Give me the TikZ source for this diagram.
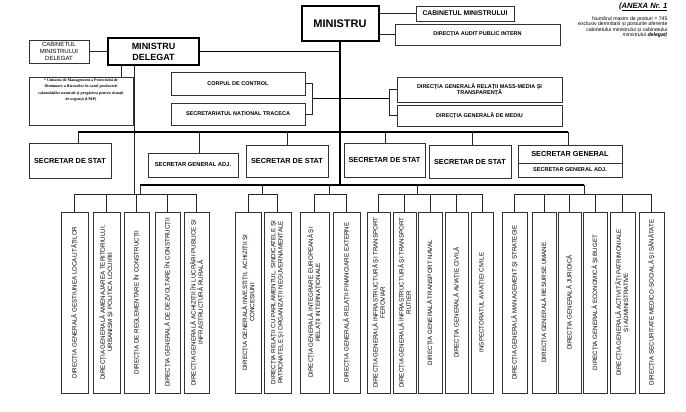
\documentclass[tikz,border=0pt]{standalone}
\usepackage{fontspec}
\setmainfont{Liberation Sans}
\newfontfamily\umpfont{Liberation Serif}

\begin{document}
\begin{tikzpicture}[x=1pt,y=-1pt,
    box/.style={draw=black!80,line width=0.8pt,inner sep=1pt,align=center,
        font=\bfseries\fontsize{5.5}{6.6}\selectfont},
    chief/.style={draw,line width=2pt,inner sep=1pt,align=center,
        font=\bfseries\fontsize{11}{12}\selectfont},
    secbox/.style={draw=black!80,line width=1pt,inner sep=1pt,align=center,
        font=\bfseries\fontsize{7.3}{8.5}\selectfont},
    dirbox/.style={draw=black!80,line width=1pt,rotate=90,minimum width=181,
        inner sep=1pt,align=center,font=\fontsize{6.2}{7.2}\selectfont},
    link/.style={draw=black!85,line width=0.8pt},
    bus/.style={line width=1.6pt}]

    \useasboundingbox (0,0) rectangle (686,412);

    % Annex note
    \node[font=\bfseries\itshape\fontsize{7.6}{8}\selectfont,anchor=east] (anexa) at (671,7) {(\underline{ANEXA Nr. 1}};
    \node[font=\fontsize{5.2}{5.4}\selectfont,align=right,anchor=north east] (posturi) at (671,13) {Numărul maxim de posturi = 745\\exclusiv demnitarii și posturile aferente\\cabinetului ministrului și cabinetului\\\textit{ministrului \textbf{delegat})}};

    % Ministru
    \node[chief,minimum width=77,minimum height=35] (min) at (340,23.5) {MINISTRU};
    \node[box,font=\bfseries\fontsize{6.8}{8}\selectfont,minimum width=98,minimum height=15] (cabmin) at (465,13.5) {CABINETUL MINISTRULUI};
    \node[box,minimum width=165,minimum height=21] (audit) at (477.5,34.5) {DIRECȚIA AUDIT PUBLIC INTERN};

    % Ministru delegat
    \node[chief,font=\bfseries\fontsize{9}{11}\selectfont,minimum width=91,minimum height=27] (mindel) at (153.5,51.5) {MINISTRU\\DELEGAT};
    \node[box,font=\fontsize{6}{7.3}\selectfont,minimum width=60,minimum height=23] (cabdel) at (59,51.5) {CABINETUL\\MINISTRULUI\\DELEGAT};
    \node[box,minimum width=104,minimum height=48] (ump) at (81,101) {};
    \node[font=\umpfont\bfseries\fontsize{4}{6.3}\selectfont,align=center,anchor=north,inner sep=1pt] (umptext) at (81,77.5) {* Unitatea de Management a Proiectului de\\Diminuare a Riscurilor în cazul producerii\\calamităților naturale și pregătirea pentru situații\\de urgență (UMP)};

    % Units under the minister
    \node[box,minimum width=134,minimum height=23] (corp) at (238,83.5) {CORPUL DE CONTROL};
    \node[box,minimum width=134,minimum height=22] (traceca) at (238,114) {SECRETARIATUL NAȚIONAL TRACECA};
    \node[box,minimum width=165,minimum height=25] (media) at (479.5,89.5) {DIRECȚIA GENERALĂ RELAȚII MASS-MEDIA ȘI\\TRANSPARENȚĂ};
    \node[box,minimum width=165,minimum height=21] (mediu) at (479.5,115.5) {DIRECȚIA GENERALĂ DE MEDIU};

    % Secretaries
    \node[secbox,minimum width=82,minimum height=35] (ss1) at (70,160.5) {SECRETAR DE STAT};
    \node[secbox,font=\bfseries\fontsize{5.8}{7}\selectfont,minimum width=90,minimum height=24] (sga) at (193,165) {SECRETAR GENERAL ADJ.};
    \node[secbox,minimum width=82,minimum height=32] (ss2) at (287,161) {SECRETAR DE STAT};
    \node[secbox,minimum width=81,minimum height=34] (ss3) at (384.5,160) {SECRETAR DE STAT};
    \node[secbox,minimum width=82,minimum height=33] (ss4) at (470,161.5) {SECRETAR DE STAT};
    \node[secbox,minimum width=104,minimum height=18] (sg) at (570,154) {SECRETAR GENERAL};
    \node[secbox,font=\bfseries\fontsize{5.6}{7}\selectfont,minimum width=104,minimum height=14] (sgadj) at (570,170) {SECRETAR GENERAL ADJ.};

    % Directions
    \node[dirbox,minimum height=27] (d1) at (74.5,302.5) {DIRECȚIA GENERALĂ GESTIUNEA LOCALITĂȚILOR};
    \node[dirbox,minimum height=27] (d2) at (106.5,302.5) {DIRECȚIA GENERALĂ AMENAJAREA TERITORIULUI,\\URBANISM ȘI POLITICA LOCUIRII};
    \node[dirbox,minimum height=25] (d3) at (136.5,302.5) {DIRECȚIA DE REGLEMENTARE ÎN CONSTRUCȚII};
    \node[dirbox,minimum height=25] (d4) at (167.5,302.5) {DIRECȚIA GENERALĂ DE DEZVOLTARE ÎN CONSTRUCȚII};
    \node[dirbox,minimum height=25] (d5) at (196.5,302.5) {DIRECȚIA GENERALĂ ACHIZIȚII ÎN LUCRĂRI PUBLICE ȘI\\INFRASTRUCTURĂ RURALĂ};
    \node[dirbox,minimum height=26] (d6) at (248,302.5) {DIRECȚIA GENERALĂ INVESTIȚII, ACHIZIȚII ȘI\\CONCESIUNI};
    \node[dirbox,minimum height=27] (d7) at (277.5,302.5) {DIRECȚIA RELAȚII CU PARLAMENTUL, SINDICATELE ȘI\\PATRONATELE ȘI ORGANIZAȚII NEGUVERNAMENTALE};
    \node[dirbox,minimum height=29] (d8) at (314.5,302.5) {DIRECȚIA GENERALĂ INTEGRARE EUROPEANĂ ȘI\\RELAȚII INTERNAȚIONALE};
    \node[dirbox,minimum height=27] (d9) at (346.5,302.5) {DIRECȚIA GENERALĂ RELAȚII FINANCIARE EXTERNE};
    \node[dirbox,minimum height=23] (d10) at (378.5,302.5) {DIRECȚIA GENERALĂ INFRASTRUCTURĂ ȘI TRANSPORT\\FEROVIAR};
    \node[dirbox,minimum height=23] (d11) at (404.5,302.5) {DIRECȚIA GENERALĂ INFRASTRUCTURĂ ȘI TRANSPORT\\RUTIER};
    \node[dirbox,minimum height=24] (d12) at (430,302.5) {DIRECȚIA GENERALĂ TRANSPORT NAVAL};
    \node[dirbox,minimum height=23] (d13) at (456.5,302.5) {DIRECȚIA GENERALĂ AVIAȚIE CIVILĂ};
    \node[dirbox,minimum height=22] (d14) at (482,302.5) {INSPECTORATUL AVIAȚIEI CIVILE};
    \node[dirbox,minimum height=25] (d15) at (514.5,302.5) {DIRECȚIA GENERALĂ MANAGEMENT ȘI STRATEGIE};
    \node[dirbox,minimum height=24] (d16) at (544,302.5) {DIRECȚIA GENERALĂ RESURSE UMANE};
    \node[dirbox,minimum height=23] (d17) at (569.5,302.5) {DIRECȚIA GENERALĂ JURIDICĂ};
    \node[dirbox,minimum height=24] (d18) at (595,302.5) {DIRECȚIA GENERALĂ ECONOMICĂ ȘI BUGET};
    \node[dirbox,minimum height=25] (d19) at (622.5,302.5) {DIRECȚIA GENERALĂ ACTIVITĂȚI PATRIMONIALE\\ȘI ADMINISTRATIVE};
    \node[dirbox,minimum height=25] (d20) at (651.5,302.5) {DIRECȚIA SECURITATE MEDICO-SOCIALĂ ȘI SĂNĂTATE};

    % Junctions
    \coordinate (dl1) at (121,65);
    \coordinate (dl2) at (134,65);
    \coordinate (brL) at (312,98.5);
    \coordinate (brR) at (389,98.5);
    \coordinate (s1) at (78,132);
    \coordinate (s2) at (199,132);
    \coordinate (s3) at (287,132);
    \coordinate (s4) at (385,132);
    \coordinate (s5) at (472,132);
    \coordinate (s6) at (568,132);
    \coordinate (t1) at (140,185);
    \coordinate (t2) at (262,185);
    \coordinate (t3) at (329,185);
    \coordinate (t4) at (417,185);
    \coordinate (t5) at (584,185);
    \coordinate (grow) at (0,194);

    % Top links
    \draw[link] (min.east |- cabmin) -- (cabmin.west);
    \draw[link] (min.east |- audit) -- (audit.west);
    \draw[bus] (min.south) -- (min.south |- t1);
    \draw[bus] (mindel.east) -- (mindel.east -| min.south);
    \draw[link] (cabdel.east) -- (mindel.west);
    \draw[link] (dl1) -- (dl1 |- ump.north);
    \draw[link] (dl2) -- (dl2 |- grow);

    % Brackets
    \draw[link] (corp.east) -| (brL |- traceca) -- (traceca.east);
    \draw[link] (media.west) -| (brR |- mediu) -- (mediu.west);
    \draw[bus] (brL) -- (brR);

    % Secretaries bus
    \draw[bus] (s1) -- (s6);
    \draw[link] (s1) -- (s1 |- ss1.north);
    \draw[link] (s2) -- (s2 |- sga.north);
    \draw[link] (s3) -- (s3 |- ss2.north);
    \draw[link] (s4) -- (s4 |- ss3.north);
    \draw[link] (s5) -- (s5 |- ss4.north);
    \draw[link] (s6) -- (s6 |- sg.north);

    % Directions bus
    \draw[bus] (t1) -- (t5);
    \draw[link] (t1) -- (t1 |- grow) (t2) -- (t2 |- grow) (t3) -- (t3 |- grow)
        (t4) -- (t4 |- grow) (t5) -- (t5 |- grow);

    % Groups of directions
    \draw[link] (d1.east) -- (d1.east |- grow) -- (d5.east |- grow) -- (d5.east);
    \draw[link] (d2.east) -- (d2.east |- grow) (d3.east) -- (d3.east |- grow) (d4.east) -- (d4.east |- grow);
    \draw[link] (d6.east) -- (d6.east |- grow) -- (d7.east |- grow) -- (d7.east);
    \draw[link] (d8.east) -- (d8.east |- grow) -- (d9.east |- grow) -- (d9.east);
    \draw[link] (d10.east) -- (d10.east |- grow) -- (d14.east |- grow) -- (d14.east);
    \draw[link] (d11.east) -- (d11.east |- grow) (d12.east) -- (d12.east |- grow) (d13.east) -- (d13.east |- grow);
    \draw[link] (d15.east) -- (d15.east |- grow) -- (d20.east |- grow) -- (d20.east);
    \draw[link] (d16.east) -- (d16.east |- grow) (d17.east) -- (d17.east |- grow)
        (d18.east) -- (d18.east |- grow) (d19.east) -- (d19.east |- grow);
\end{tikzpicture}
\end{document}
